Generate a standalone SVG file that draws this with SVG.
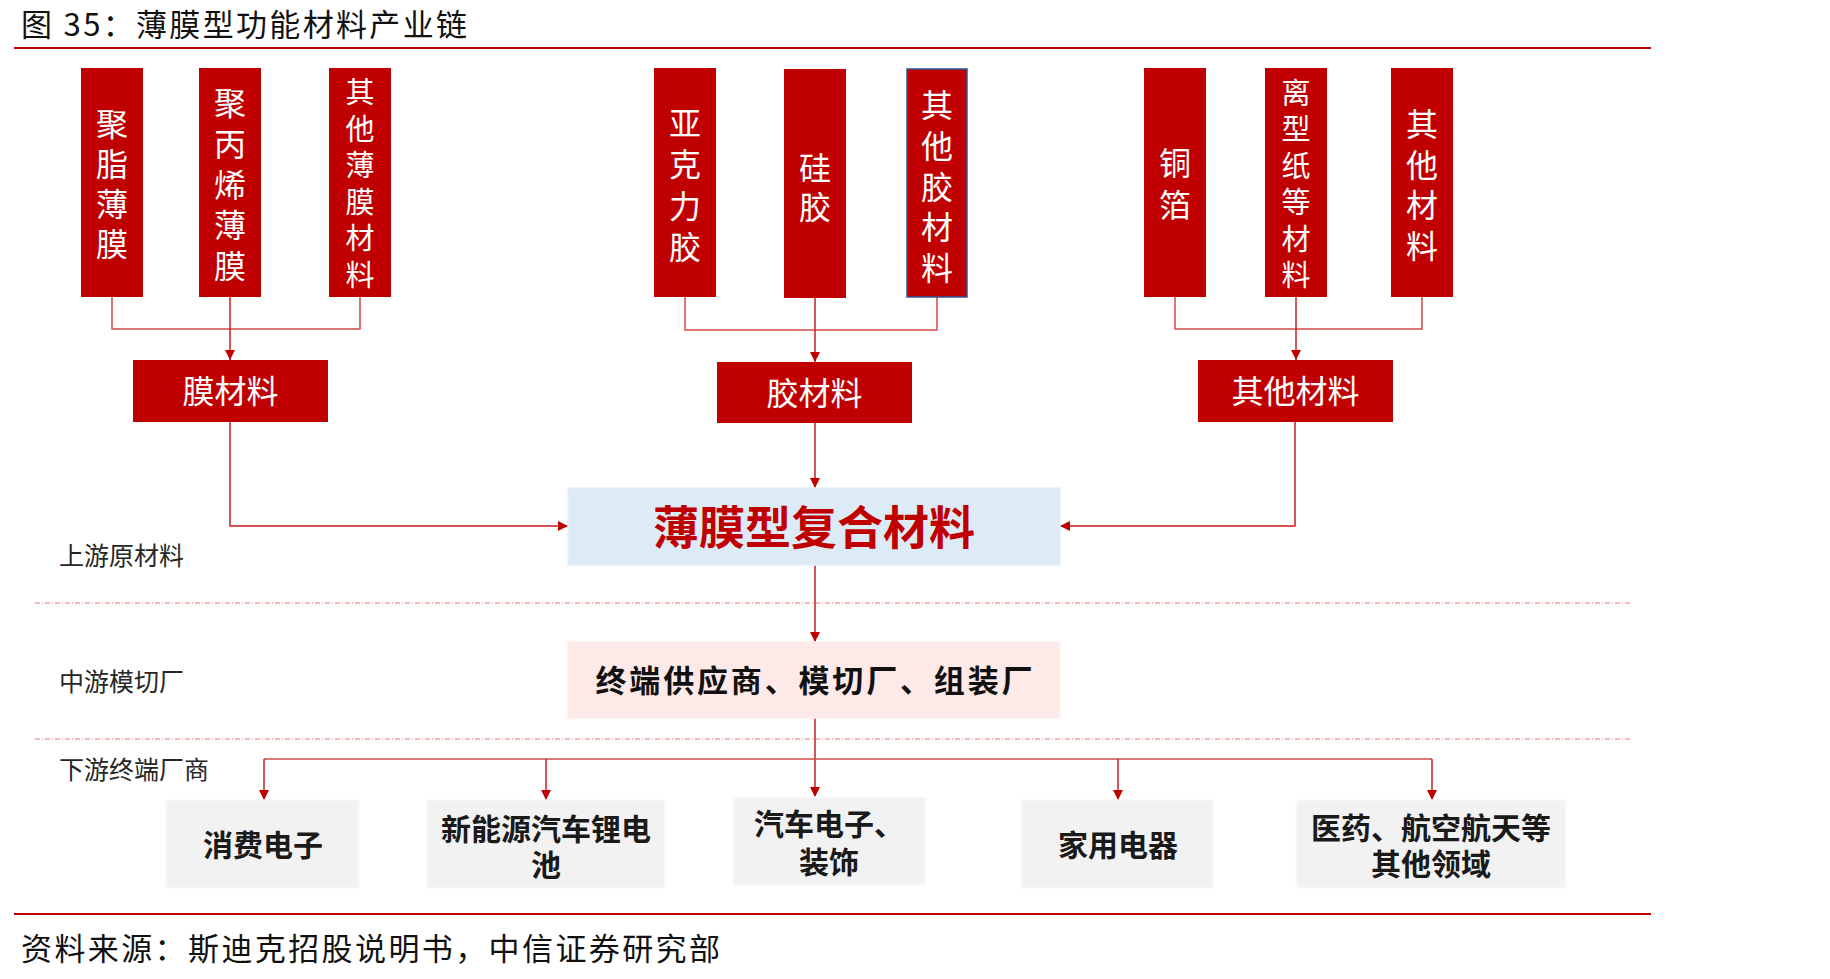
<svg xmlns="http://www.w3.org/2000/svg" width="1830" height="979" viewBox="0 0 1830 979">
<style>
text{font-family:"Noto Sans CJK SC","Noto Sans",sans-serif;}
.red{fill:#C00000;}
.vt{fill:#fff;font-size:32px;text-anchor:middle;dominant-baseline:central;}
.vt6{fill:#fff;font-size:29px;text-anchor:middle;dominant-baseline:central;}
.mt{fill:#fff;font-size:32px;text-anchor:middle;dominant-baseline:central;}
.lab{fill:#262626;font-size:25px;dominant-baseline:central;}
.bt{fill:#1a1a1a;font-size:30px;font-weight:bold;text-anchor:middle;dominant-baseline:central;}
.gb{fill:#F2F2F2;stroke:#fafafa;stroke-width:1.5;}
.con{fill:none;stroke:#D24B4B;stroke-width:1.5;}
.arr{fill:none;stroke:#C81E1E;stroke-width:1.5;marker-end:url(#ah);}
.dash{stroke:#E07A7A;stroke-width:1.2;stroke-dasharray:5 2 1 2;}
</style>
<defs>
<marker id="ah" markerUnits="userSpaceOnUse" markerWidth="11" markerHeight="10" refX="10" refY="5" orient="auto">
<path d="M0,0 L10,5 L0,10 z" fill="#C00000"/>
</marker>
</defs>
<rect width="1830" height="979" fill="#fff"/>

<g id="title">
<text x="21" y="22" font-size="31" fill="#111" dominant-baseline="central" textLength="446">图 35：薄膜型功能材料产业链</text>
<line x1="14" y1="48" x2="1651" y2="48" stroke="#C00000" stroke-width="2"/>
</g>

<g id="source">
<line x1="14" y1="914" x2="1651" y2="914" stroke="#C00000" stroke-width="2"/>
<text x="21" y="946" font-size="31" fill="#111" dominant-baseline="central" textLength="699">资料来源：斯迪克招股说明书，中信证券研究部</text>
</g>

<g id="dividers">
<line class="dash" x1="35" y1="603" x2="1630" y2="603"/>
<line class="dash" x1="35" y1="739" x2="1630" y2="739"/>
</g>

<g id="stage-labels">
<text class="lab" x="59" y="554">上游原材料</text>
<text class="lab" x="59" y="680">中游模切厂</text>
<text class="lab" x="59" y="768">下游终端厂商</text>
</g>

<g id="connectors">
<polyline class="con" points="112,297 112,329 360,329 360,297"/>
<polyline class="arr" points="230,297 230,360"/>
<polyline class="con" points="685,297 685,330 937,330 937,297"/>
<polyline class="arr" points="815,298 815,362"/>
<polyline class="con" points="1175,297 1175,329 1422,329 1422,297"/>
<polyline class="arr" points="1296,297 1296,360"/>
<polyline class="arr" points="230,422 230,526 568,526"/>
<polyline class="arr" points="815,423 815,488"/>
<polyline class="arr" points="1295,422 1295,526 1060,526"/>
<polyline class="arr" points="815,565 815,642"/>
<polyline class="arr" points="815,718 815,797"/>
<polyline class="con" points="264,759 1432,759"/>
<polyline class="arr" points="264,759 264,800"/>
<polyline class="arr" points="546,759 546,800"/>
<polyline class="arr" points="1118,759 1118,800"/>
<polyline class="arr" points="1432,759 1432,800"/>
</g>

<g id="n-polyester">
<rect class="red" x="81" y="68" width="62" height="229"/>
<text class="vt"><tspan x="112" y="122">聚</tspan><tspan x="112" y="162">脂</tspan><tspan x="112" y="202">薄</tspan><tspan x="112" y="242">膜</tspan></text>
</g>
<g id="n-pp">
<rect class="red" x="199" y="68" width="62" height="229"/>
<text class="vt"><tspan x="230" y="101">聚</tspan><tspan x="230" y="142">丙</tspan><tspan x="230" y="183">烯</tspan><tspan x="230" y="223">薄</tspan><tspan x="230" y="264">膜</tspan></text>
</g>
<g id="n-otherfilm">
<rect class="red" x="329" y="68" width="62" height="229"/>
<text class="vt6"><tspan x="360" y="90">其</tspan><tspan x="360" y="127">他</tspan><tspan x="360" y="163">薄</tspan><tspan x="360" y="200">膜</tspan><tspan x="360" y="236">材</tspan><tspan x="360" y="273">料</tspan></text>
</g>

<g id="n-acrylic">
<rect class="red" x="654" y="68" width="62" height="229"/>
<text class="vt"><tspan x="685" y="121">亚</tspan><tspan x="685" y="162">克</tspan><tspan x="685" y="204">力</tspan><tspan x="685" y="245">胶</tspan></text>
</g>
<g id="n-silicone">
<rect class="red" x="784" y="69" width="62" height="229"/>
<text class="vt"><tspan x="815" y="166">硅</tspan><tspan x="815" y="205">胶</tspan></text>
</g>
<g id="n-otherglue">
<rect class="red" x="907" y="69" width="60" height="228" stroke="#2F5597" stroke-width="1.5"/>
<text class="vt"><tspan x="937" y="103">其</tspan><tspan x="937" y="144">他</tspan><tspan x="937" y="185">胶</tspan><tspan x="937" y="225">材</tspan><tspan x="937" y="266">料</tspan></text>
</g>

<g id="n-copper">
<rect class="red" x="1144" y="68" width="62" height="229"/>
<text class="vt"><tspan x="1175" y="161">铜</tspan><tspan x="1175" y="203">箔</tspan></text>
</g>
<g id="n-release">
<rect class="red" x="1265" y="68" width="62" height="229"/>
<text class="vt6"><tspan x="1296" y="91">离</tspan><tspan x="1296" y="127">型</tspan><tspan x="1296" y="164">纸</tspan><tspan x="1296" y="200">等</tspan><tspan x="1296" y="237">材</tspan><tspan x="1296" y="273">料</tspan></text>
</g>
<g id="n-othermat">
<rect class="red" x="1391" y="68" width="62" height="229"/>
<text class="vt"><tspan x="1422" y="122">其</tspan><tspan x="1422" y="163">他</tspan><tspan x="1422" y="203">材</tspan><tspan x="1422" y="244">料</tspan></text>
</g>

<g id="n-film">
<rect class="red" x="133" y="360" width="195" height="62"/>
<text class="mt" x="230.5" y="389">膜材料</text>
</g>
<g id="n-glue">
<rect class="red" x="717" y="362" width="195" height="61"/>
<text class="mt" x="814.5" y="391">胶材料</text>
</g>
<g id="n-other">
<rect class="red" x="1198" y="360" width="195" height="62"/>
<text class="mt" x="1295.5" y="389">其他材料</text>
</g>

<g id="n-composite">
<rect x="568" y="488" width="492" height="77" fill="#DDEBF7" stroke="#E8F1FA" stroke-width="1.5"/>
<text x="814" y="524" font-size="46" font-weight="bold" fill="#C00000" text-anchor="middle" dominant-baseline="central">薄膜型复合材料</text>
</g>

<g id="n-midstream">
<rect x="568" y="642" width="492" height="76" fill="#FDE9E7" stroke="#FEF1EF" stroke-width="1.5"/>
<text x="814" y="678" font-size="31" font-weight="bold" fill="#111" text-anchor="middle" dominant-baseline="central" textLength="437">终端供应商、模切厂、组装厂</text>
</g>

<g id="n-consumer">
<rect class="gb" x="166" y="800" width="193" height="88"/>
<text class="bt" x="263" y="843">消费电子</text>
</g>
<g id="n-ev">
<rect class="gb" x="427" y="800" width="238" height="88"/>
<text class="bt" x="546" y="827">新能源汽车锂电</text>
<text class="bt" x="546" y="863">池</text>
</g>
<g id="n-auto">
<rect class="gb" x="733" y="797" width="192" height="88"/>
<text class="bt" x="829" y="822">汽车电子、</text>
<text class="bt" x="829" y="860">装饰</text>
</g>
<g id="n-appliance">
<rect class="gb" x="1021" y="800" width="192" height="88"/>
<text class="bt" x="1118" y="843">家用电器</text>
</g>
<g id="n-medical">
<rect class="gb" x="1296" y="800" width="270" height="88"/>
<text class="bt" x="1431" y="826">医药、航空航天等</text>
<text class="bt" x="1431" y="862">其他领域</text>
</g>
</svg>
